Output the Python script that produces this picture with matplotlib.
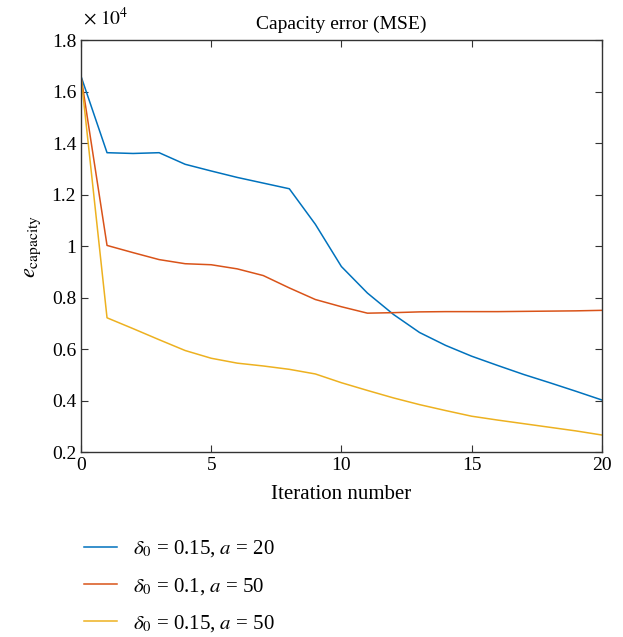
import matplotlib
matplotlib.use("Agg")
import matplotlib.pyplot as plt
from matplotlib.lines import Line2D

plt.rcParams['font.family'] = ['Liberation Serif', 'DejaVu Serif']
plt.rcParams['mathtext.fontset'] = 'stix'

iterations = list(range(21))
blue_vals = [1.66, 1.363, 1.360, 1.363, 1.318, 1.292, 1.267, 1.245, 1.223, 1.085, 0.921,
             0.818, 0.735, 0.665, 0.615, 0.573, 0.537, 0.502, 0.470, 0.437, 0.403]
red_vals = [1.66, 1.003, 0.975, 0.948, 0.932, 0.928, 0.912, 0.886, 0.838, 0.793, 0.765,
            0.740, 0.742, 0.745, 0.746, 0.746, 0.746, 0.747, 0.748, 0.749, 0.751]
yellow_vals = [1.66, 0.722, 0.680, 0.637, 0.595, 0.565, 0.546, 0.535, 0.522, 0.504, 0.470,
               0.440, 0.411, 0.385, 0.362, 0.340, 0.325, 0.311, 0.297, 0.283, 0.267]
labels = [r'$\delta_0$ = 0.15, $a$ = 20', r'$\delta_0$ = 0.1, $a$ = 50', r'$\delta_0$ = 0.15, $a$ = 50']
colors = ['#0072BD', '#D95319', '#EDB120']
xticks = [0, 5, 10, 15, 20]
yticks = [0.2, 0.4, 0.6, 0.8, 1.0, 1.2, 1.4, 1.6, 1.8]
yticklabels = ['0.2', '0.4', '0.6', '0.8', '1', '1.2', '1.4', '1.6', '1.8']

fig = plt.figure(figsize=(6.23, 6.37), dpi=100)
ax = fig.add_axes([0.130, 0.290, 0.836, 0.647])
for vals, c in zip([blue_vals, red_vals, yellow_vals], colors):
    ax.plot(iterations, vals, color=c, lw=1.1)
ax.set_xlim(0, 20)
ax.set_ylim(0.2, 1.8)
ax.set_xticks(xticks)
ax.set_yticks(yticks)
ax.set_yticklabels(yticklabels)
ax.tick_params(direction='in', top=True, right=True, labelsize=14, length=5, width=0.8, colors='#333333', labelcolor='black')
for s in ax.spines.values():
    s.set_linewidth(1.0)
    s.set_color('#333333')
ax.set_title('Capacity error (MSE)', fontsize=14, pad=8)
ax.set_xlabel('Iteration number', fontsize=15, labelpad=8)
ax.set_ylabel(r'$e_{\mathrm{capacity}}$', fontsize=16, labelpad=6)
fig.text(0.133, 0.955, r'$\times\ 10^{4}$', fontsize=14, ha='left', va='bottom')

handles = [Line2D([0], [0], color=c, lw=1.1) for c in colors]
fig.legend(handles, labels, loc='upper left', bbox_to_anchor=(0.105, 0.184), frameon=False,
           fontsize=15, handlelength=1.6, handletextpad=0.75, labelspacing=0.78)
fig.savefig('out.png', dpi=100)
